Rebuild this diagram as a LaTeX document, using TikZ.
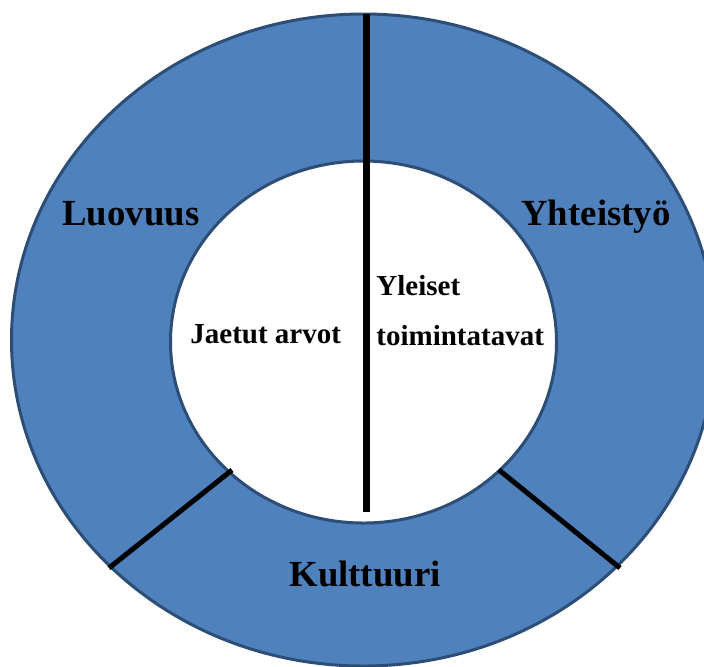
\documentclass[tikz,border=0pt]{standalone}
\usepackage{fontspec}
\setmainfont{Liberation Serif}
\usepackage{xcolor}
\definecolor{cRing}{HTML}{4F81BD}
\definecolor{cEdge}{HTML}{2C4D75}
\usetikzlibrary{positioning}

\begin{document}
\begin{tikzpicture}[x=0.5pt, y=-0.5pt,
    ring/.style  = {draw=cEdge, line width=1.5pt},
    sep/.style   = {draw=black, line width=2.5pt},
    big/.style   = {font=\rmfamily\bfseries\fontsize{18.4}{22}\selectfont,
                    inner sep=0pt, anchor=base west},
    small/.style = {font=\rmfamily\bfseries\fontsize{14.5}{25}\selectfont,
                    inner sep=0pt, anchor=base west, align=left}
]
% --- Stred a polomery prstence ---------------------------------------------
\def\cx{363.5}
\useasboundingbox (0,0) rectangle (704,666);

% --- Prstenec -------------------------------------------------------------
\draw[ring, fill=cRing] (\cx,340) ellipse [x radius=352, y radius=326];
\draw[ring, fill=white] (\cx,342) ellipse [x radius=193, y radius=181];

% --- Delici cary -----------------------------------------------------------
\coordinate (vtop) at (366,14);
\coordinate (vbot) at (366,512);
\coordinate (lo)   at (109,568);
\coordinate (li)   at (232,470);
\coordinate (ri)   at (499,470);
\coordinate (ro)   at (620,568);
\draw[sep, line width=3.5pt] (vtop) -- (vbot);
\draw[sep] (lo) -- (li);
\draw[sep] (ri) -- (ro);

% --- Popisky ---------------------------------------------------------------
\node[big] (luovuus) at (62,225)  {Luovuus};
\node[big] (yhteis)  at (521,225) {Yhteistyö};
\node[big] (kult)    at (289,586) {Kulttuuri};
\node[small] (jaetut)  at (190,343) {Jaetut arvot};
% viceradkovy uzel: base = posledni radek
\node[small] (yleiset) at (376,345) {Yleiset\\toimintatavat};
\end{tikzpicture}
\end{document}
